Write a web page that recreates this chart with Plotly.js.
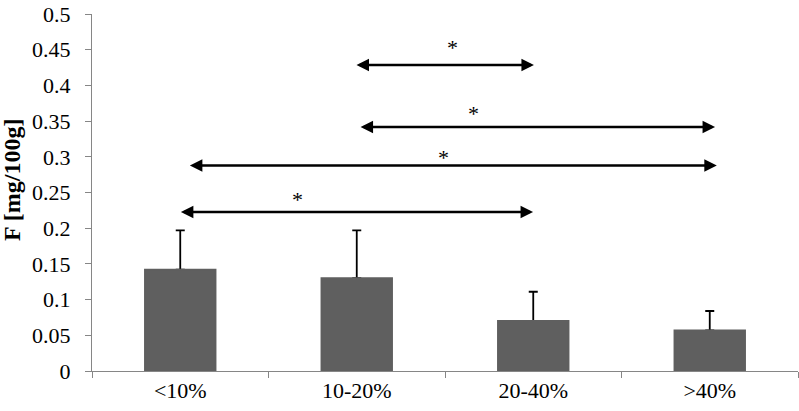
<!DOCTYPE html>
<html><head><meta charset="utf-8">
<script src="https://cdn.plot.ly/plotly-3.0.1.min.js"></script>
<style>html,body{margin:0;padding:0;background:#fff}</style>
</head><body><div id="chart" style="width:799px;height:411px"></div>
<script>
const categories = ["<10%", "10-20%", "20-40%", ">40%"];
const meanValues = [0.142, 0.130, 0.070, 0.057];
const sdValues = [0.055, 0.067, 0.041, 0.027];
const yAxisTitle = "F [mg/100g]";
// significance comparisons (category index positions of arrow tips, bracket level)
const compFrom = [-0.005, 0.046, 1.013, 0.99];
const compTo = [1.999, 3.04, 3.03, 2.004];
const compLevel = [0.2227, 0.2878, 0.3417, 0.4286];
const starX = [0.667, 1.489, 1.664, 1.54];
const starY = [0.2479, 0.3057, 0.3683, 0.4594];
const starLabel = ["*", "*", "*", "*"];

const annotations = [];
for (let i = 0; i < compFrom.length; i++) {
  annotations.push({
    x: compTo[i], y: compLevel[i], ax: compFrom[i], ay: compLevel[i],
    xref: 'x', yref: 'y', axref: 'x', ayref: 'y',
    showarrow: true, arrowside: 'end+start', arrowhead: 2, arrowsize: 1,
    arrowwidth: 2.5, arrowcolor: '#000', text: ''
  });
  annotations.push({
    x: starX[i], y: starY[i], xref: 'x', yref: 'y', text: starLabel[i],
    showarrow: false, yanchor: 'middle', xanchor: 'center', yshift: -5,
    font: {family: 'Liberation Serif', size: 22, color: '#000'}
  });
}
// y-axis title drawn as rotated text, positioned like the reference
annotations.push({
  text: '<b>' + yAxisTitle + '</b>', textangle: -90, showarrow: false,
  xref: 'paper', yref: 'paper', x: 0, y: 0.535, xanchor: 'center', yanchor: 'middle',
  xshift: -80, font: {family: 'Liberation Serif', size: 24, color: '#000'}
});

const barWithErr = {
  type: 'bar', x: categories, y: meanValues,
  marker: {color: '#5f5f5f'},
  error_y: {type: 'data', array: sdValues, symmetric: false, arrayminus: [0,0,0,0], color: '#000', thickness: 1.8, width: 4.5},
  width: 0.4
};
const barCover = {
  type: 'bar', x: categories, y: meanValues,
  marker: {color: '#5f5f5f', line: {color: '#5f5f5f', width: 1.8}},
  width: 0.4
};

const layout = {
  width: 799, height: 411,
  margin: {l: 92, r: 1, t: 14, b: 40},
  paper_bgcolor: '#fff', plot_bgcolor: '#fff',
  showlegend: false, barmode: 'overlay',
  font: {family: 'Liberation Serif', size: 22, color: '#000'},
  xaxis: {
    type: 'category', tickson: 'boundaries', ticks: 'outside', ticklen: 6, tickcolor: '#868686',
    showline: true, linecolor: '#868686', linewidth: 1, showgrid: false, zeroline: false,
    tickfont: {family: 'Liberation Serif', size: 22}, range: [-0.5, 3.5]
  },
  yaxis: {
    range: [0, 0.5], dtick: 0.05, ticks: 'outside', ticklen: 6, tickcolor: '#868686',
    showline: true, linecolor: '#868686', linewidth: 1, showgrid: false, zeroline: false,
    tickfont: {family: 'Liberation Serif', size: 22}, ticklabelstandoff: 10
  },
  annotations: annotations
};

Plotly.newPlot('chart', [barWithErr, barCover], layout, {staticPlot: true, displayModeBar: false});
</script></body></html>
